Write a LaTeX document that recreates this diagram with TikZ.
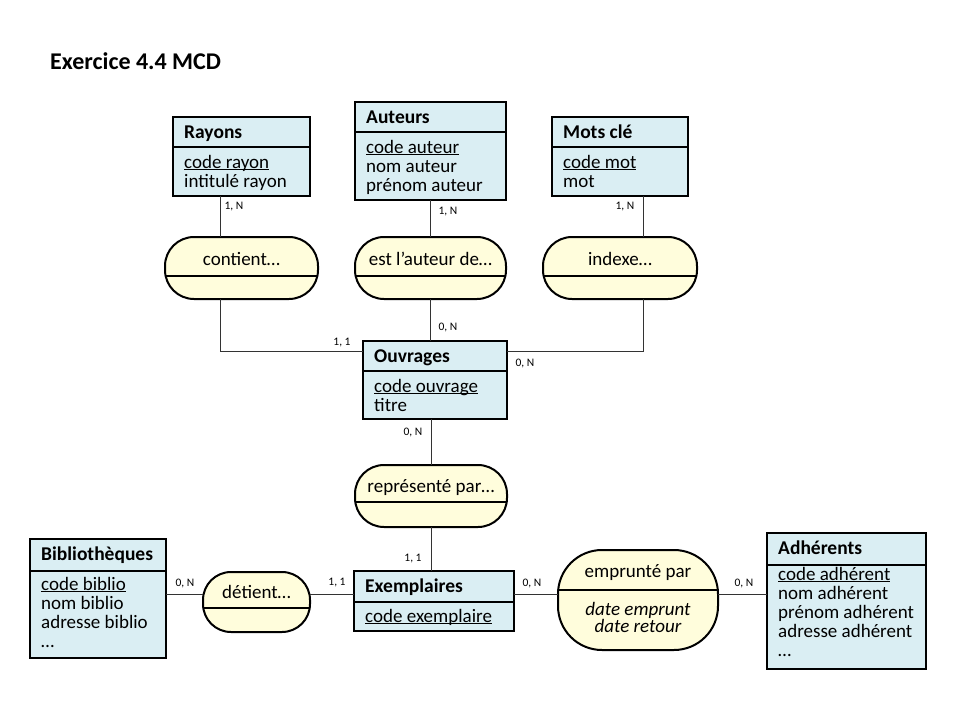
\documentclass[tikz,border=0pt]{standalone}
\usepackage{fontspec}
\setmainfont{Carlito}
\usetikzlibrary{positioning}

\definecolor{bleuent}{HTML}{DAEEF3}
\definecolor{jauneass}{HTML}{FFFDDC}
\newcommand{\cle}[1]{\setbox0\hbox{#1}\rlap{\rule[-2pt]{\wd0}{1pt}}\box0}

\begin{document}
\begin{tikzpicture}[x=1pt,y=-1pt,
  entite/.style={draw, line width=2.4pt, fill=bleuent, anchor=north west, inner sep=0pt, outer sep=0pt},
  assoc/.style={draw, line width=2pt, fill=jauneass, inner sep=0pt, outer sep=0pt},
  trait/.style={line width=2pt},
  lien/.style={line width=1pt, black!80},
  titre/.style={anchor=base west, inner sep=0pt, font=\bfseries\fontsize{19.5}{19}\selectfont},
  attr/.style={anchor=base west, inner sep=0pt, align=left, font=\fontsize{19}{19}\selectfont},
  asstxt/.style={anchor=base, inner sep=0pt, align=center, font=\fontsize{19}{17}\selectfont},
  card/.style={inner sep=0pt, font=\fontsize{11.5}{13}\selectfont}]

\useasboundingbox (0,0) rectangle (960,720);

\node[anchor=base west, inner sep=0pt, font=\bfseries\fontsize{24}{28}\selectfont] (exo) at (50,69) {Exercice 4.4 MCD};

% entites
\node[entite, minimum width=137, minimum height=79] (rayons) at (173,117) {};
\node[entite, minimum width=151, minimum height=98] (auteurs) at (355,102) {};
\node[entite, minimum width=136, minimum height=79] (motscle) at (552,117) {};
\node[entite, minimum width=144, minimum height=78] (ouvrages) at (363,341) {};
\node[entite, minimum width=136, minimum height=119] (biblio) at (30,539) {};
\node[entite, minimum width=160, minimum height=60] (exemplaires) at (354,571) {};
\node[entite, minimum width=159, minimum height=136] (adherents) at (767,533) {};

\foreach \e/\h in {rayons/30, auteurs/30, motscle/30, ouvrages/30, biblio/32, exemplaires/31, adherents/32}
  \draw[trait] ([yshift=-\h pt]\e.north west) -- ([yshift=-\h pt]\e.north east);

\foreach \e/\t in {rayons/Rayons, auteurs/Auteurs, motscle/Mots clé, ouvrages/Ouvrages,
                   biblio/Bibliothèques, exemplaires/Exemplaires, adherents/Adhérents}
  \node[titre] (\e-t) at ([shift={(11pt,-21pt)}]\e.north west) {\t};

% base = derniere ligne : 51 + 19 par ligne en plus
\node[attr] (rayons-a) at ([shift={(11pt,-70pt)}]rayons.north west) {\cle{code rayon}\\intitulé rayon};
\node[attr] (auteurs-a) at ([shift={(11pt,-89pt)}]auteurs.north west) {\cle{code auteur}\\nom auteur\\prénom auteur};
\node[attr] (motscle-a) at ([shift={(11pt,-70pt)}]motscle.north west) {\cle{code mot}\\mot};
\node[attr] (ouvrages-a) at ([shift={(11pt,-70pt)}]ouvrages.north west) {\cle{code ouvrage}\\titre};
\node[attr] (biblio-a) at ([shift={(11pt,-108pt)}]biblio.north west) {\cle{code biblio}\\nom biblio\\adresse biblio\\…};
\node[attr] (exemplaires-a) at ([shift={(11pt,-51pt)}]exemplaires.north west) {\cle{code exemplaire}};
\node[attr] (adherents-a) at ([shift={(11pt,-123pt)}]adherents.north west) {\cle{code adhérent}\\nom adhérent\\prénom adhérent\\adresse adhérent\\…};

% associations
\node[assoc, minimum width=153, minimum height=62, rounded corners=29] (contient) at (241.5,268) {};
\node[assoc, minimum width=151, minimum height=62, rounded corners=29] (auteurde) at (430.5,268) {};
\node[assoc, minimum width=154, minimum height=62, rounded corners=29] (indexe) at (620,268) {};
\node[assoc, minimum width=152, minimum height=62, rounded corners=29] (represente) at (431,496) {};
\node[assoc, minimum width=107, minimum height=60, rounded corners=28] (detient) at (256.5,602) {};
\node[assoc, minimum width=160, minimum height=100, rounded corners=44] (emprunte) at (638,600) {};

\foreach \a/\d in {contient/-8, auteurde/-8, indexe/-8, represente/-6, detient/-6, emprunte/10}
  \draw[trait] ([yshift=\d pt]\a.west) -- ([yshift=\d pt]\a.east);

\node[asstxt] (contient-t) at ([yshift=-28pt]contient.north) {contient…};
\node[asstxt] (auteurde-t) at ([yshift=-28pt]auteurde.north) {est l’auteur de…};
\node[asstxt] (indexe-t) at ([yshift=-28pt]indexe.north) {indexe…};
\node[asstxt] (represente-t) at ([yshift=-27.5pt]represente.north) {représenté par…};
\node[asstxt] (detient-t) at ([yshift=-26pt]detient.north) {détient…};
\node[asstxt] (emprunte-t) at ([yshift=-27pt]emprunte.north) {emprunté par};
\node[asstxt, font=\itshape\fontsize{19}{17}\selectfont] (emprunte-a) at ([yshift=-82pt]emprunte.north) {date emprunt\\date retour};

% liens
\coordinate (niveau) at ([yshift=-23pt]exemplaires.north);
\draw[lien] ([xshift=-21.5pt]contient.north) -- ([xshift=-21.5pt]contient.north |- rayons.south);
\draw[lien] ([xshift=-21.5pt]contient.south) |- ([yshift=-10pt]ouvrages.north west);
\draw[lien] (auteurde.north) -- (auteurde.north |- auteurs.south);
\draw[lien] (auteurde.south) -- (auteurde.south |- ouvrages.north);
\draw[lien] ([xshift=23pt]indexe.north) -- ([xshift=23pt]indexe.north |- motscle.south);
\draw[lien] ([xshift=23pt]indexe.south) |- ([yshift=-10pt]ouvrages.north east);
\draw[lien] (represente.north |- ouvrages.south) -- (represente.north);
\draw[lien] (represente.south) -- (represente.south |- exemplaires.north);
\draw[lien] (biblio.east |- niveau) -- (detient.west |- niveau);
\draw[lien] (detient.east |- niveau) -- (exemplaires.west |- niveau);
\draw[lien] (exemplaires.east |- niveau) -- (emprunte.west |- niveau);
\draw[lien] (emprunte.east |- niveau) -- (adherents.west |- niveau);

% cardinalites
\node[card] (c1) at (234,207) {1, N};
\node[card] (c2) at (448,212) {1, N};
\node[card] (c3) at (625,207) {1, N};
\node[card] (c4) at (342,343) {1, 1};
\node[card] (c5) at (448,327) {0, N};
\node[card] (c6) at (525,363) {0, N};
\node[card] (c7) at (413,432) {0, N};
\node[card] (c8) at (413,559) {1, 1};
\node[card] (c9) at (185,583) {0, N};
\node[card] (c10) at (337,583) {1, 1};
\node[card] (c11) at (532,583) {0, N};
\node[card] (c12) at (744,583) {0, N};

\end{tikzpicture}
\end{document}
